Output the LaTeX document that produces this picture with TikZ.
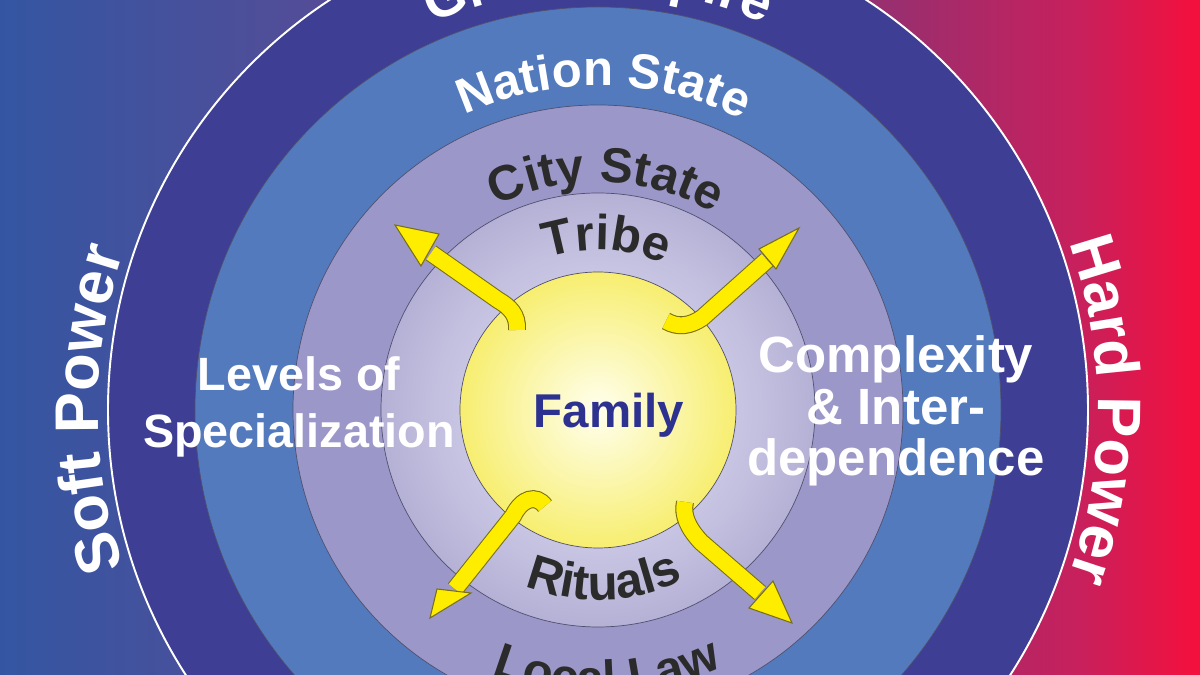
\documentclass[tikz,border=0pt]{standalone}
\usepackage{fontspec}
\setmainfont{Liberation Sans}
\usetikzlibrary{decorations.text}

\definecolor{bgzero}{RGB}{52,86,162}
\definecolor{bgone}{RGB}{88,75,150}
\definecolor{bgtwo}{RGB}{128,58,124}
\definecolor{bgthree}{RGB}{155,46,110}
\definecolor{bgfour}{RGB}{200,32,92}
\definecolor{bgfive}{RGB}{245,15,60}
\definecolor{empire}{RGB}{61,62,148}
\definecolor{nation}{RGB}{83,122,189}
\definecolor{city}{RGB}{155,151,201}
\definecolor{tribein}{RGB}{233,233,250}
\definecolor{tribeout}{RGB}{181,177,214}
\definecolor{famin}{RGB}{255,255,238}
\definecolor{famout}{RGB}{247,238,112}
\definecolor{ringline}{RGB}{80,80,110}
\definecolor{arrowfill}{RGB}{255,237,0}
\definecolor{arrowedge}{RGB}{120,110,20}
\definecolor{darktext}{RGB}{43,43,43}
\definecolor{familytext}{RGB}{45,49,144}

\pgfdeclarehorizontalshading{powershade}{100bp}{color(0bp)=(bgzero); color(25bp)=(bgzero);
  color(40bp)=(bgone); color(55bp)=(bgtwo); color(62.5bp)=(bgthree);
  color(70bp)=(bgfour); color(75bp)=(bgfive); color(100bp)=(bgfive)}

\newcommand{\ringfont}{\bfseries\fontsize{28}{30}\selectfont}
\newcommand{\empirefont}{\bfseries\fontsize{31}{33}\selectfont}
\newcommand{\sidefont}{\bfseries\fontsize{35}{38}\selectfont}

\begin{document}
\begin{tikzpicture}[x=0.02cm, y=0.02cm,
  shaft/.style={draw=arrowfill, line width=9pt,
    preaction={draw=arrowedge, line width=10.2pt}},
  head/.style={fill=arrowfill, draw=arrowedge, line width=0.6pt, line join=miter},
  bigword/.style={text=white, align=center}]

  \useasboundingbox (-598,-265) rectangle (602,410);
  \clip (-598,-265) rectangle (602,410);

  \shade[shading=powershade] (-598,-265) rectangle (602,410);

  % rings, outside in
  \fill[empire] (0,0) circle (490);
  \draw[white, line width=1.1pt] (0,0) circle (490);
  \filldraw[fill=nation, draw=ringline, line width=0.4pt] (0,0) circle (403);
  \filldraw[fill=city, draw=ringline, line width=0.4pt] (0,0) circle (305);
  \shade[inner color=tribein, outer color=tribeout] (0,0) circle (217);
  \draw[ringline, line width=0.4pt] (0,0) circle (217);
  \shade[inner color=famin, outer color=famout] (0,0) circle (138);
  \draw[ringline, line width=0.4pt] (0,0) circle (138);

  % yellow arrows
  \coordinate (tailA) at (-81,80);
  \coordinate (neckA) at (-167,157);
  \coordinate (tipA) at (-203,185);
  \draw[shaft] (tailA) .. controls (-80,95) and (-88,103) .. (-100,110) -- (neckA);
  \draw[head] (tipA) -- (-159,176) -- (-177,144) -- cycle;

  \coordinate (tailB) at (68,89);
  \coordinate (neckB) at (169,150);
  \coordinate (tipB) at (201,182);
  \draw[shaft] (tailB) .. controls (80,82) and (92,84) .. (104,92) -- (neckB);
  \draw[head] (tipB) -- (161,161) -- (178,141) -- cycle;

  \coordinate (tailC) at (-53,-96);
  \coordinate (neckC) at (-143,-179);
  \coordinate (tipC) at (-168,-208);
  \draw[shaft] (tailC) .. controls (-62,-84) and (-76,-88) .. (-85,-106) -- (neckC);
  \draw[head] (tipC) -- (-161,-179) -- (-127,-183) -- cycle;

  \coordinate (tailD) at (87,-92);
  \coordinate (neckD) at (162,-183);
  \coordinate (tipD) at (194,-213);
  \draw[shaft] (tailD) .. controls (84,-105) and (90,-118) .. (103,-132) -- (neckD);
  \draw[head] (tipD) -- (151,-198) -- (175,-171) -- cycle;

  % labels on the rings
  \path[decorate, decoration={text along path, text align=center,
    text={|\empirefont\color{white}|Great Empire}}]
    (150:421) arc[start angle=150, end angle=30, radius=421];
  \path[decorate, decoration={text along path, text align=center,
    text={|\ringfont\color{white}|Nation State}}]
    (149:324) arc[start angle=149, end angle=29, radius=324];
  \path[decorate, decoration={text along path, text align=center,
    text={|\ringfont\color{darktext}|City State}}]
    (148:228) arc[start angle=148, end angle=28, radius=228];
  \path[decorate, decoration={text along path, text align=center,
    text={|\ringfont\color{darktext}|Tribe}}]
    (147:160) arc[start angle=147, end angle=27, radius=160];
  \path[decorate, decoration={text along path, text align=center,
    text={|\ringfont\color{darktext}|Rituals}}]
    (212:190) arc[start angle=212, end angle=332, radius=190];
  \path[decorate, decoration={text along path, text align=center,
    text={|\ringfont\color{darktext}|Local Law}}]
    (212:285) arc[start angle=212, end angle=332, radius=285];

  % outside the circle
  \path[decorate, decoration={text along path, text align=center,
    text={|\sidefont\color{white}|Soft Power}}]
    (240:500) arc[start angle=240, end angle=120, radius=500];
  \path[decorate, decoration={text along path, text align=center,
    text={|\sidefont\color{white}|Hard Power}}]
    (60:500) arc[start angle=60, end angle=-60, radius=500];

  \node[text=familytext, font=\bfseries\fontsize{27}{30}\selectfont, anchor=base]
    (family) at (11,-18) {Family};
  \node[bigword, font=\bfseries\fontsize{26.6}{32}\selectfont]
    (levels) at (-299,3) {Levels of\\Specialization};
  \node[bigword, font=\bfseries\fontsize{29}{29.5}\selectfont]
    (complexity) at (298,-1) {Complexity\\\& Inter-\\dependence};

\end{tikzpicture}
\end{document}
